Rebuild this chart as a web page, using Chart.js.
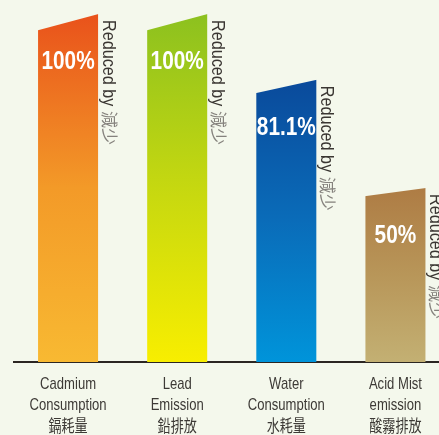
<!DOCTYPE html>
<html lang="en">
	<head>
		<meta charset="UTF-8" />
		<title>Reduction chart</title>
		<script src="https://cdn.jsdelivr.net/npm/chart.js@4.4.0/dist/chart.umd.min.js"></script>
		<style>
			html, body { margin: 0; padding: 0; overflow: hidden; background: #f4f8ec; }
		</style>
	</head>
	<body>
		<canvas id="chart" width="450" height="435"></canvas>
		<script>
			// chart data
			const categories = [
				['Cadmium', 'Consumption', '鎘耗量'],
				['Lead', 'Emission', '鉛排放'],
				['Water', 'Consumption', '水耗量'],
				['Acid Mist', 'emission', '酸霧排放'],
			];
			const reductions = [100, 100, 81.1, 50];
			const valueLabels = ['100%', '100%', '81.1%', '50%'];
			const noteText = 'Reduced by ';
			const noteCJK = '減少';

			// colours, top -> bottom of each bar
			const barGradients = [
				['#e9521b', '#f39a28', '#f8b932'],
				['#8cc11f', '#c6d810', '#f8ee00'],
				['#0a4a9b', '#0a6cb9', '#0094da'],
				['#ae7c44', '#b89659', '#c3b073'],
			];
			const bgColor = '#f4f8ec';
			const sans = '"Liberation Sans", Arial, "Noto Sans CJK TC", sans-serif';

			//no narrow font installed, so squeeze the text horizontally
			function narrowText(c, text, x, y, squeeze) {
				c.save();
				c.translate(x, y);
				c.scale(squeeze, 1);
				c.fillText(text, 0, 0);
				c.restore();
			}

			//draws the slanted tops, value labels, rotated notes and category labels
			const decorPlugin = {
				id: 'decor',
				afterDatasetsDraw(chart) {
					const c = chart.ctx;
					const meta = chart.getDatasetMeta(0);
					const base = chart.scales.y.getPixelForValue(0);
					meta.data.forEach((bar, i) => {
						const left = bar.x - bar.width / 2;
						const right = bar.x + bar.width / 2;
						const top = bar.y;
						const slant = (base - top) * 0.047;

						// cut the top left corner
						c.save();
						c.fillStyle = bgColor;
						c.beginPath();
						c.moveTo(left - 1, top - 1);
						c.lineTo(right + 0.5, top - 1);
						c.lineTo(right + 0.5, top);
						c.lineTo(left - 1, top + slant + 0.1);
						c.closePath();
						c.fill();

						// value label
						c.fillStyle = '#ffffff';
						c.font = 'bold 26px ' + sans;
						c.textAlign = 'center';
						c.textBaseline = 'middle';
						narrowText(c, valueLabels[i], bar.x, top + 48, 0.8);

						// category label
						c.fillStyle = '#3d3a36';
						c.font = '17px ' + sans;
						const lineY = [384, 405, 427];
						categories[i].forEach((line, k) => {
							narrowText(c, line, bar.x, lineY[k], 0.77);
						});

						// rotated note
						c.translate(right + 5, top + 6);
						c.rotate(Math.PI / 2);
						c.textAlign = 'left';
						c.textBaseline = 'alphabetic';
						c.font = '18px ' + sans;
						c.fillStyle = '#3a3632';
						c.save();
						c.scale(0.9, 1);
						c.fillText(noteText, 0, 0);
						const w = c.measureText(noteText).width * 0.9;
						c.restore();
						c.font = '17px "Noto Sans CJK TC", sans-serif';
						c.fillStyle = '#85827d';
						c.fillText(noteCJK, w, 0);
						c.restore();
					});
				},
			};

			const ctx = document.getElementById('chart').getContext('2d');
			const myChart = new Chart(ctx, {
				type: 'bar',
				data: {
					labels: categories,
					datasets: [
						{
							data: reductions,
							backgroundColor: function (context) {
								const chart = context.chart;
								const stops = barGradients[context.dataIndex];
								if (!chart.chartArea) {
									return stops[0];
								}
								const y = chart.scales.y;
								const top = y.getPixelForValue(reductions[context.dataIndex]);
								const bottom = y.getPixelForValue(0);
								const g = chart.ctx.createLinearGradient(0, top, 0, bottom);
								stops.forEach((col, k) => g.addColorStop(k / (stops.length - 1), col));
								return g;
							},
							borderWidth: 0,
							barPercentage: 0.55,
							categoryPercentage: 1,
						},
					],
				},
				options: {
					responsive: false,
					animation: false,
					layout: { padding: { top: 14, left: 13.5, right: 0, bottom: 0 } },
					plugins: {
						legend: { display: false },
						tooltip: { enabled: false },
					},
					scales: {
						x: {
							grid: { display: false, drawTicks: false },
							border: { display: true, color: '#2b2622', width: 2 },
							ticks: { display: false },
							afterFit: function (scale) {
								scale.height = 73;
							},
						},
						y: {
							display: false,
							min: 0,
							max: 100,
						},
					},
				},
				plugins: [decorPlugin],
			});
		</script>
	</body>
</html>
